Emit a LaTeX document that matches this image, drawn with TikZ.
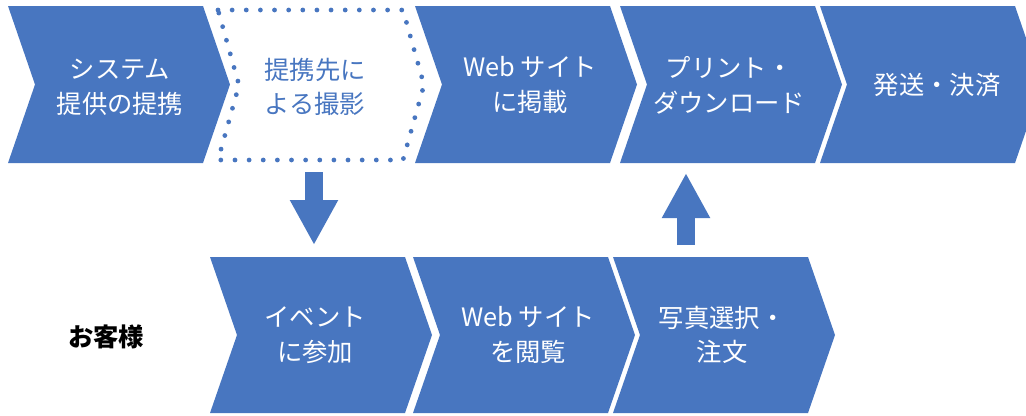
\documentclass[tikz,border=0pt]{standalone}
\usepackage{fontspec}
\setmainfont{Noto Sans CJK JP}
\usetikzlibrary{arrows.meta}
\definecolor{flowblue}{RGB}{72,118,192}
\tikzset{
  chevfill/.style={fill=flowblue, draw=none},
  chevdot/.style={draw=flowblue, line width=3.6pt, line cap=round, dash pattern=on 0pt off 10.6pt},
  lbl/.style={text=white, align=center, font=\fontsize{19}{26}\selectfont, inner sep=0pt},
  lblblue/.style={lbl, text=flowblue},
  sidelbl/.style={text=black, font=\fontsize{19}{26}\selectfont\bfseries, inner sep=0pt},
  blockarrow/.style={draw=flowblue, line width=13.5pt, -{Triangle[length=33.75pt,width=33.75pt]}}
}
\newcommand\chevpath[3]{(#1,#2) -- ({#1+195},#2) -- ({#1+222},{(#2+#3)/2}) -- ({#1+195},#3) -- (#1,#3) -- ({#1+27},{(#2+#3)/2}) -- cycle}
\begin{document}
\begin{tikzpicture}[x=0.75pt,y=-0.75pt]
\useasboundingbox (0,0) rectangle (1026,415);
\clip (0,0) rectangle (1026,415);
% top row
\fill[chevfill] \chevpath{8}{6}{163};
\draw[chevdot] (218,10) -- (403,10) -- (424,85) -- (403,160) -- (218,160) -- (239,85) -- cycle;
\fill[chevfill] \chevpath{415}{6}{163};
\fill[chevfill] \chevpath{620}{6}{163};
\fill[chevfill] \chevpath{820}{6}{163};
% bottom row
\fill[chevfill] \chevpath{210}{257}{413};
\fill[chevfill] \chevpath{413}{257}{413};
\fill[chevfill] \chevpath{613}{257}{413};
% labels
\node[lbl] (t1) at (120,87) {システム\\提供の提携};
\node[lblblue] (t2) at (315,87) {提携先に\\よる撮影};
\node[lbl] (t3) at (530,85) {Web サイト\\に掲載};
\node[lbl] (t4) at (729,85) {プリント・\\ダウンロード};
\node[lbl] (t5) at (937,85) {発送・決済};
\node[lbl] (b1) at (315,335) {イベント\\に参加};
\node[lbl] (b2) at (528,335) {Web サイト\\を閲覧};
\node[lbl] (b3) at (722,335) {写真選択・\\注文};
\node[sidelbl] (cust) at (106,337) {お客様};
% block arrows
\coordinate (dstart) at (314,172);
\coordinate (dend) at (314,245);
\coordinate (ustart) at (686,245);
\coordinate (uend) at (686,173);
\draw[blockarrow] (dstart) -- (dend);
\draw[blockarrow] (ustart) -- (uend);
\end{tikzpicture}
\end{document}
